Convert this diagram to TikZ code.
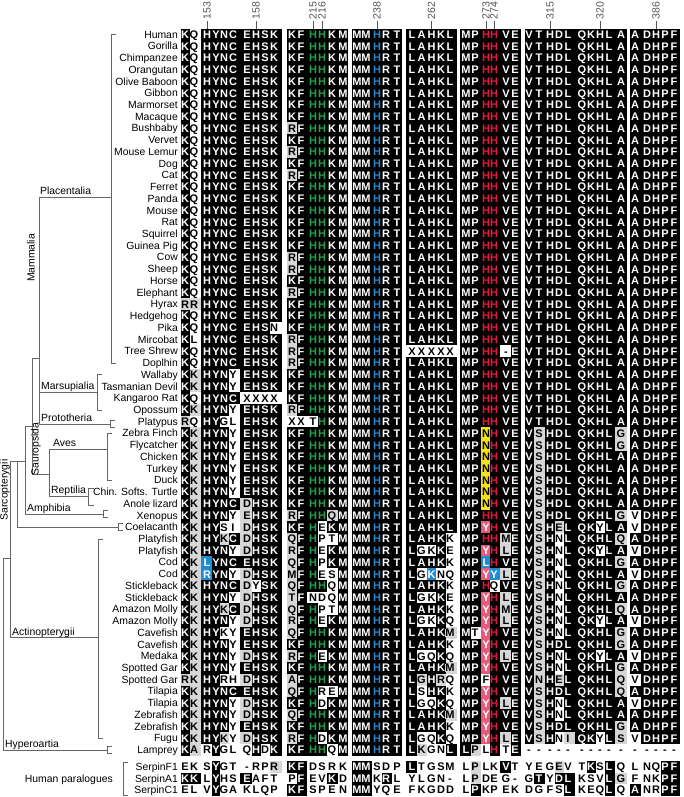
\documentclass[tikz,border=0pt]{standalone}
\usepackage{fontspec}
\setmainfont{Liberation Sans}
\usetikzlibrary{positioning}

\definecolor{grnres}{HTML}{22A04B}
\definecolor{blures}{HTML}{2A84C8}
\definecolor{redres}{HTML}{E0193F}
\definecolor{pinkbg}{HTML}{E85A7A}
\definecolor{yelbg}{HTML}{F3E21C}
\definecolor{blubg}{HTML}{1E8BD2}
\definecolor{grybg}{HTML}{D6D6D6}
\definecolor{numgray}{HTML}{555555}

% one residue cell: letter #1, shading code #2
\newcount\colidx
\def\rowy{0}
\def\putcell#1#2{%
  \edef\cellC{\csname cx\the\colidx\endcsname}%
  \edef\cellL{\csname cl\the\colidx\endcsname}%
  \edef\cellR{\csname cr\the\colidx\endcsname}%
  \path[c#2] (\cellL,\rowy-5.87) rectangle (\cellR,\rowy+5.87);
  \node[res,c#2] (c\r-\the\colidx) at (\cellC,\rowy) {#1};}
% walk the residue string and the code string side by side, | ends a block
\def\walkrow#1#2\relax#3#4\relax{%
  \if|#1\else
    \global\advance\colidx by 1
    \putcell{#1}{#3}%
  \fi
  \ifx\relax#2\relax\else\walkrow#2\relax#4\relax\fi}

\def\mamS{KQHYNCEHSK|KFHHKM|MMHRT|LAHKL|MPHHVE|VTHDLQKHLA|ADHPF}
\def\mamC{bwbbbbbbbb|bbGGbb|bbBbb|bbbbb|bbRRbb|bbbbbbbbbb|bbbbb}
\def\mamRS{KQHYNCEHSK|RFHHKM|MMHRT|LAHKL|MPHHVE|VTHDLQKHLA|ADHPF}
\def\mamRC{bwbbbbbbbb|gbGGbb|bbBbb|bbbbb|bbRRbb|bbbbbbbbbb|bbbbb}

\begin{document}
\begin{tikzpicture}[x=1pt,y=-1pt,
  res/.style={inner sep=0pt,font=\fontsize{11}{11}\selectfont\bfseries,
    text height=7.9pt,text depth=0pt},
  lab/.style={inner sep=0pt,font=\fontsize{10.4}{12}\selectfont},
  num/.style={inner sep=0pt,text=numgray,font=\fontsize{10.5}{11}\selectfont},
  tree/.style={draw=black!60,line width=0.7pt},
  cb/.style={text=white},
  cw/.style={fill=white,text=black},
  cg/.style={fill=grybg,text=black},
  cG/.style={text=grnres},
  cB/.style={text=blures},
  cR/.style={text=redres},
  cy/.style={fill=yelbg,text=black},
  cp/.style={fill=pinkbg,text=white},
  cu/.style={fill=blubg,text=white},
  ck/.style={fill=black,text=white},
  cn/.style={text=black}]
\useasboundingbox (0,0) rectangle (683,797);

% column centres and cell edges
\foreach \xc/\xl/\xr [count=\i] in {185/180.5/189.5, 194/189.5/200.5,
  207/200.5/211.5, 216/211.5/220, 224/220/228.5, 233/228.5/240,
  247/240/251.5, 256/251.5/260.5, 265/260.5/269.5, 274/269.5/281.5,
  292/286.5/296.5, 301/296.5/307, 313/307/317.5, 322/317.5/327,
  332/327/337.5, 343/337.5/348,
  357/351.5/361.5, 366/361.5/371.5, 377/371.5/381.5, 386/381.5/391.5,
  397/391.5/402,
  412/405.5/416.75, 421.5/416.75/426.5, 431.5/426.5/436.25,
  441/436.25/445.5, 450/445.5/456.5,
  466/460/470.5, 475/470.5/480.5, 486/480.5/490, 494/490/500,
  506/500/510.5, 515/510.5/521,
  529/524.5/534, 539/534/544.5, 550/544.5/554.5, 559/554.5/563.5,
  568/563.5/575, 582/575/586.5, 591/586.5/595.5, 600/595.5/604.5,
  609/604.5/615, 621/615/626.5,
  635/630/641, 647/641/651.5, 656/651.5/660.5, 665/660.5/669.5,
  674/669.5/679.5}{%
  \expandafter\xdef\csname cx\i\endcsname{\xc}%
  \expandafter\xdef\csname cl\i\endcsname{\xl}%
  \expandafter\xdef\csname cr\i\endcsname{\xr}}

% black blocks
\foreach \l/\rr/\b in {180.5/281.5/756, 286.5/348/756, 351.5/402/756,
  405.5/456.5/756, 460/521/756, 524.5/626.5/744.1, 630/679.5/744.1}
  \fill (\l,28.6) rectangle (\rr,\b);

% residue numbers
\foreach \x/\n in {207/153, 256/158, 313/215, 322/216, 377/238, 431.5/262,
  486/273, 494/274, 550/315, 600/320, 656/386}{
  \draw[numgray,line width=0.6pt] (\x,21) -- (\x,28.6);
  \node[num,rotate=90,anchor=west] (pos\n) at (\x,19.5) {\n};
}

% alignment rows
\foreach \r/\nm/\sq/\cd in {
1/Human/\mamS/\mamC,
2/Gorilla/\mamS/\mamC,
3/Chimpanzee/\mamS/\mamC,
4/Orangutan/\mamS/\mamC,
5/Olive Baboon/\mamS/\mamC,
6/Gibbon/\mamS/\mamC,
7/Marmorset/\mamS/\mamC,
8/Macaque/\mamS/\mamC,
9/Bushbaby/\mamRS/\mamRC,
10/Vervet/\mamS/\mamC,
11/Mouse Lemur/\mamRS/\mamRC,
12/Dog/\mamS/\mamC,
13/Cat/\mamRS/\mamRC,
14/Ferret/\mamS/\mamC,
15/Panda/\mamS/\mamC,
16/Mouse/\mamS/\mamC,
17/Rat/\mamS/\mamC,
18/Squirrel/\mamS/\mamC,
19/Guinea Pig/\mamS/\mamC,
20/Cow/\mamRS/\mamRC,
21/Sheep/\mamRS/\mamRC,
22/Horse/\mamS/\mamC,
23/Elephant/\mamRS/\mamRC,
24/Hyrax/RRHYNCEHSK|KFHHKM|MMHRT|LAHKL|MPHHVE|VTHDLQKHLA|ADHPF/ggbbbbbbbb|bbGGbb|bbBbb|bbbbb|bbRRbb|bbbbbbbbbb|bbbbb,
25/Hedgehog/\mamS/\mamC,
26/Pika/KQHYNCEHSN|KFHHKM|MMHRT|LAHKL|MPHHVE|VTHDLQKHLA|ADHPF/bwbbbbbbbw|bbGGbb|bbBbb|bbbbb|bbRRbb|bbbbbbbbbb|bbbbb,
27/Mircobat/KLHYNCEHSK|RFHHKM|MMHRT|LAHKL|MPHHVE|VTHDLQKHLA|ADHPF/bwbbbbbbbb|gbGGbb|bbBbb|bbbbb|bbRRbb|bbbbbbbbbb|bbbbb,
28/Tree Shrew/KQHYNCEHSK|RFHHKM|MMHRT|XXXXX|MPHH-E|VTHDLQKHLA|ADHPF/bwbbbbbbbb|gbGGbb|bbBbb|wwwww|bbRRwb|bbbbbbbbbb|bbbbb,
29/Doplhin/\mamRS/\mamRC,
30/Wallaby/KKHYNYEHSK|KFHHKM|MMHRT|LAHKL|MPHHVE|VTHDLQKHLA|ADHPF/bgbbbwbbbb|bbGGbb|bbBbb|bbbbb|bbRRbb|bbbbbbbbbb|bbbbb,
31/Tasmanian Devil/KKHYNYEHSK|KFHHKM|MMHRT|LAHKL|MPHHVE|VTHDLQKHLA|ADHPF/bgbbbwbbbb|bbGGbb|bbBbb|bbbbb|bbRRbb|bbbbbbbbbb|bbbbb,
32/Kangaroo Rat/KQHYNCXXXX|KFHHKM|MMHRT|LAHKL|MPHHVE|VTHDLQKHLA|ADHPF/bwbbbbwwww|bbGGbb|bbBbb|bbbbb|bbRRbb|bbbbbbbbbb|bbbbb,
33/Opossum/KKHYNYEHSK|RFHHKM|MMHRT|LAHKL|MPHHVE|VTHDLQKHLA|ADHPF/bgbbbwbbbb|gbGGbb|bbBbb|bbbbb|bbRRbb|bbbbbbbbbb|bbbbb,
34/Platypus/RQHYGLEHSK|XXTHKM|MMHRT|LAHKL|MPHHVE|VTHDLQKHLA|ADHPF/gwbbwwbbbb|wwwGbb|bbBbb|bbbbb|bbRRbb|bbbbbbbbbb|bbbbb,
35/Zebra Finch/KKHYNYEHSK|KFHHKM|MMHRT|LAHKL|MPNHVE|VSHDLQKHLG|ADHPF/bgbbbwbbbb|bbGGbb|bbBbb|bbbbb|bbyRbb|bgbbbbbbbg|bbbbb,
36/Flycatcher/KKHYNYEHSK|KFHHKM|MMHRT|LAHKL|MPNHVE|VSHDLQKHLG|ADHPF/bgbbbwbbbb|bbGGbb|bbBbb|bbbbb|bbyRbb|bgbbbbbbbg|bbbbb,
37/Chicken/KKHYNYEHSK|KFHHKM|MMHRT|LAHKL|MPNHVE|VSHDLQKHLA|ADHPF/bgbbbwbbbb|bbGGbb|bbBbb|bbbbb|bbyRbb|bgbbbbbbbb|bbbbb,
38/Turkey/KKHYNYEHSK|KFHHKM|MMHRT|LAHKL|MPNHVE|VSHDLQKHLA|ADHPF/bgbbbwbbbb|bbGGbb|bbBbb|bbbbb|bbyRbb|bgbbbbbbbb|bbbbb,
39/Duck/KKHYNYEHSK|KFHHKM|MMHRT|LAHKL|MPNHVE|VSHDLQKHLA|ADHPF/bgbbbwbbbb|bbGGbb|bbBbb|bbbbb|bbyRbb|bgbbbbbbbb|bbbbb,
40/Chin. Softs. Turtle/KKHYNYEHSK|KFHHKM|MMHRT|LAHKL|MPNHVE|VSHDLQKHLA|ADHPF/bgbbbwbbbb|bbGGbb|bbBbb|bbbbb|bbyRbb|bgbbbbbbbb|bbbbb,
41/Anole lizard/KKHYNCDHSK|KFHHKM|MMHRT|LAHKL|MPNHVE|VSHDLQKHLA|ADHPF/bgbbbbgbbb|bbGGbb|bbBbb|bbbbb|bbyRbb|bgbbbbbbbb|bbbbb,
42/Xenopus/KKHYNYEHSK|RFHHQM|MMHRT|LAHKL|MPHHVE|VSHDLQKHLG|VDHPF/bgbbbwgbbb|gbGGgb|bbBbb|bbbbb|bbRRbb|bgbbbbbbbg|wbbbb,
43/Coelacanth/KKHYSIDHSK|KFHEKM|MMHRT|LAHKL|MPYHVE|VSHELQKYLA|VDHPF/bgbbwwgbbb|bbGwbb|bbBbb|bbbbb|bbpRbb|bgbgbbbwbb|wbbbb,
44/Platyfish/KKHYKCDHSK|QFHPTM|MMHRT|LAHKK|MPHHME|VSHNLQKHLQ|ADHPF/bgbbgbgbbb|gbGwwb|bbBbb|bbbbw|bbRRgb|bgbwbbbbbg|bbbbb,
45/Platyfish/KKHYNYDHSK|RFHEKM|MMHRT|LGKKE|MPYHLE|VSHNLQKYLA|VDHPF/bgbbbwgbbb|gbGwbb|bbBbb|bwwbw|bbpRgb|bgbwbbbwbb|wbbbb,
46/Cod/KKLYNCEHSK|QFHPKM|MMHRT|LAHKK|MPLHVE|VSHNLQKHLG|ADHPF/bgubbbbbbb|gbGwbb|bbBbb|bbbbw|bbuRbb|bgbwbbbbbg|bbbbb,
47/Cod/KKRYNYDHSK|MFHESM|MMHRT|LGKNQ|MPYYLE|VSHNLQKHLA|VDHPF/bgubbwgbbb|gbGwwb|bbBbb|bwuww|bbpugb|bgbwbbbbbb|wbbbb,
48/Stickleback/KKHYNCDYSK|QFHHQM|MMHRT|LAHKK|MPHQVE|VSHNLQKHLG|ADHPF/bgbbbbgwbb|gbGGwb|bbBbb|bbbbw|bbRwbb|bgbwbbbbbg|bbbbb,
49/Stickleback/KKHYNYDHSK|TFNDQM|MMHRT|LGKKE|MPYHLE|VSHNLQKHLA|ADHPF/bgbbbwgbbb|gbwwwb|bbBbb|bwwbw|bbpRgb|bgbwbbbbbb|bbbbb,
50/Amazon Molly/KKHYKCDHSK|QFHPTM|MMHRT|LAHKK|MPYHME|VSHNLQKHLQ|ADHPF/bgbbgbgbbb|gbGwwb|bbBbb|bbbbw|bbpRgb|bgbwbbbbbg|bbbbb,
51/Amazon Molly/KKHYNYDHSK|RFHEKM|MMHRT|LGKKQ|MPYHLE|VSHNLQKYLA|VDHPF/bgbbbwgbbb|gbGwbb|bbBbb|bwwbw|bbpRgb|bgbwbbbwbb|wbbbb,
52/Cavefish/KKHYKYEHSK|QFHHKM|MMHRT|LAHKM|MTYHVE|VSHNLQKHLG|ADHPF/bgbbwwbbbb|gbGGbb|bbBbb|bbbbg|bwpRbb|bgbwbbbbbg|bbbbb,
53/Cavefish/KKHYNYEHSK|KFHHKM|MMHRT|LAHKK|MPYHVE|VSHDLQKHLG|ADHPF/bgbbbwbbbb|bbGGbb|bbBbb|bbbbw|bbpRbb|bgbbbbbbbg|bbbbb,
54/Medaka/KKHYNYDHSK|RFHEKM|MMHRT|LGQKQ|MPYHLE|VSHNLQKYLA|VDHPF/bgbbbwgbbb|gbGwbb|bbBbb|bwwbw|bbpRgb|bgbwbbbwbb|wbbbb,
55/Spotted Gar/KKHYNYEHSK|KFHHKM|MMHRT|LAHKM|MPYHVE|VSHNLQKHLG|ADHPF/bgbbbwbbbb|bbGGbb|bbBbb|bbbbg|bbpRbb|bgbwbbbbbg|bbbbb,
56/Spotted Gar/RKHYRHDHSK|AFHHKM|MMHRT|LGHRQ|MPFHVE|VNHELQKHLQ|VDHPF/ggbbwwgbbb|gbGGbb|bbBbb|bgbgw|bbwRbb|bgbgbbbbbg|wbbbb,
57/Tilapia/KKHYNCEHSK|QFHREM|MMHRT|LSHKK|MPYHVE|VSHDLQKHLQ|ADHPF/bgbbbbbbbb|gbGwwb|bbBbb|bwbbw|bbpRbb|bgbbbbbbbg|bbbbb,
58/Tilapia/KKHYNYDHSK|KFHDKM|MMHRT|LGQKQ|MPYHLE|VSHNLQKHLA|VDHPF/bgbbbwgbbb|bbGwbb|bbBbb|bwwbw|bbpRgb|bgbwbbbbbb|wbbbb,
59/Zebrafish/KKHYNYDHSK|QFHHKM|MMHRT|LAHKM|MPYHVE|VSHNLQKHLA|ADHPF/bgbbbwgbbb|gbGGbb|bbBbb|bbbbg|bbpRbb|bgbwbbbbbb|bbbbb,
60/Zebrafish/KKHYNYEHSK|KFHHKM|MMHRT|LAHKK|MPYHVE|VSHDLQKHLG|ADHPF/bgbbbwbbbb|bbGGbb|bbBbb|bbbbw|bbpRbb|bgbbbbbbbg|bbbbb,
61/Fugu/KKHYKYDHSK|RFHDKM|MMHRT|LGQKQ|MPYHLE|VSHNIQKYLS|VDHPF/bgbbgwgbbb|gbGwbb|bbBbb|bwwbw|bbpRgb|bgbwgbbwbg|wbbbb,
62/Lamprey/KARYGLQHDK|KFHHQM|MMHRT|LKGNL|LPLHTE|----------|-----/bgwbwwwbwb|bbGGwb|bbBbb|bgwwb|bgwRwb|nnnnnnnnnn|nnnnn,
63/SerpinF1/EKSYGT-RPR|KFDSRK|MMSDP|LTGSM|LPLKVT|YEGEVTKSLQ|LNQPF/nnnknnnnng|kknnnn|kknnn|knnnn|ngnnkn|nnngnnknkn|nnnkk,
64/SerpinA1/KKLYHSEAFT|PFEVKD|MMKRL|YLGN-|LPDEG-|GTYDLKSVLG|FNKPF/kknknnknnn|nknnkn|kknkn|nnnnn|ngnnnn|nknkknnnkg|nnnkk,
65/SerpinC1/ELVYGAKLQP|KFSPEN|MMYQE|FKGDD|LPKPEK|DGFSLKEQLQ|ANRPF/nnnknnnnnn|kknnnn|kknnn|nnnnn|nknnnn|nnnnknnnkn|knnkk}{
  \pgfmathsetmacro\rowy{\r<63 ? 34.5+(\r-1)*11.73 : 767+(\r-63)*11.5}
  \global\colidx=0
  \node[lab,anchor=base east] (sp\r) at (178,\rowy+3.6) {\nm};
  \edef\go{\noexpand\walkrow\sq\relax\cd\relax}\go
}

% tree: Mammalia
\draw[tree] (116,34.5) -- (111,34.5) -- (111,362.9) -- (116,362.9);
\draw[tree] (39,197) -- (111,197);
\draw[tree] (39,197) -- (39,424);
\draw[tree] (102,374.7) -- (97,374.7) -- (97,409.9) -- (102,409.9);
\draw[tree] (39,392.3) -- (97,392.3);
\draw[tree] (115,420.5) -- (110,420.5) -- (110,427.5) -- (115,427.5);
\draw[tree] (39,424) -- (110,424);
% Amniota and Sauropsida
\draw[tree] (39,358) -- (32,358) -- (32,474) -- (49,474);
\draw[tree] (49,449) -- (49,496);
\draw[tree] (49,449) -- (107,449);
\draw[tree] (112,433.3) -- (107,433.3) -- (107,480.2) -- (112,480.2);
\draw[tree] (49,496) -- (88,496);
\draw[tree] (94,488) -- (88,488) -- (88,505) -- (94,505);
% Tetrapoda, Sarcopterygii
\draw[tree] (32,426) -- (25,426) -- (25,514) -- (103,514);
\draw[tree] (108,510.5) -- (103,510.5) -- (103,517.5) -- (108,517.5);
\draw[tree] (10,461) -- (25,461);
\draw[tree] (17,461) -- (17,527.2) -- (118,527.2);
\draw[tree] (123,523.7) -- (118,523.7) -- (118,530.7) -- (123,530.7);
% fishes and root
\draw[tree] (10,461) -- (10,637.7) -- (98,637.7);
\draw[tree] (103,538.9) -- (98,538.9) -- (98,738.3) -- (103,738.3);
\draw[tree] (10,558) -- (3,558) -- (3,750) -- (107,750);
\draw[tree] (112,746.5) -- (107,746.5) -- (107,753.5) -- (112,753.5);
\draw[tree] (128,762) -- (123,762) -- (123,795) -- (128,795);

% clade names
\node[lab,anchor=base west] (placentalia) at (40,194) {Placentalia};
\node[lab,rotate=90] (mammalia) at (31,258) {Mammalia};
\node[lab,anchor=base west] (marsupialia) at (41,389) {Marsupialia};
\node[lab,anchor=base west] (prototheria) at (41,421.5) {Prototheria};
\node[lab,rotate=90] (sauropsida) at (36,449) {Sauropsida};
\node[lab,anchor=base west] (aves) at (53,446.5) {Aves};
\node[lab,anchor=base west] (reptilia) at (51,493.5) {Reptilia};
\node[lab,anchor=base west] (amphibia) at (27,511) {Amphibia};
\node[lab,rotate=90] (sarcopterygii) at (5,490) {Sarcopterygii};
\node[lab,anchor=base west] (actinopterygii) at (12,635) {Actinopterygii};
\node[lab,anchor=base west] (hyperoartia) at (5,747.5) {Hyperoartia};
\node[lab,anchor=base east] (paralogues) at (113,782) {Human paralogues};
\end{tikzpicture}
\end{document}
